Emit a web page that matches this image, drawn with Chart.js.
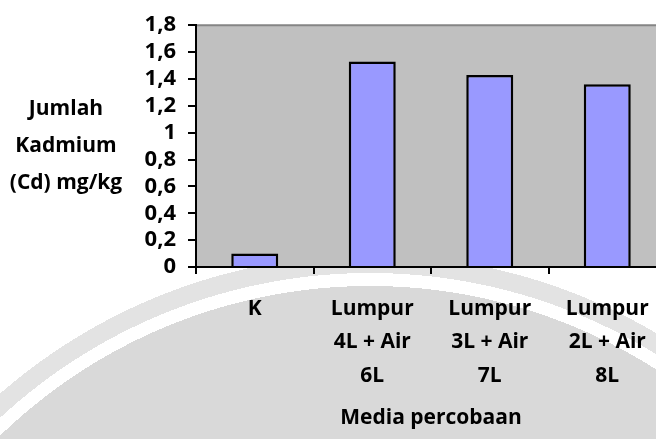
<!DOCTYPE html>
<html>
<head>
<meta charset="utf-8">
<script src="https://cdn.jsdelivr.net/npm/chart.js@4"></script>
<style>
  html, body { margin: 0; padding: 0; width: 656px; height: 439px; overflow: hidden; }
  body {
    background: radial-gradient(circle at 370px 818px,
      #d9d9d9 0 532px, #ffffff 532px 545px, #e3e3e3 545px 563px, #ffffff 563px);
  }
  #wrap { position: absolute; left: 0; top: 0; width: 680px; height: 439px; }
</style>
</head>
<body>
<div id="wrap"><canvas id="c" width="680" height="439"></canvas></div>
<script>
// Media (treatments) and cadmium content in mg/kg
const categories = [
  ['K'],
  ['Lumpur', '4L + Air', '6L'],
  ['Lumpur', '3L + Air', '7L'],
  ['Lumpur', '2L + Air', '8L']
];
const cadmium = [0.10, 1.53, 1.43, 1.36];
const yTickValues = [0, 0.2, 0.4, 0.6, 0.8, 1.0, 1.2, 1.4, 1.6, 1.8];
const yTickLabels = ['0', '0,2', '0,4', '0,6', '0,8', '1', '1,2', '1,4', '1,6', '1,8'];
const yTitleLines = ['Jumlah', 'Kadmium', '(Cd) mg/kg'];
const xTitle = 'Media percobaan';

const FONT = "'Open Sans', sans-serif";

// Gray plot area with a darker top edge
const plotBackground = {
  id: 'plotBackground',
  beforeDraw(chart) {
    const { ctx, chartArea: a } = chart;
    ctx.save();
    ctx.fillStyle = '#c0c0c0';
    ctx.fillRect(a.left, a.top, a.right - a.left, a.bottom - a.top);
    ctx.strokeStyle = '#858585';
    ctx.lineWidth = 2;
    ctx.beginPath();
    ctx.moveTo(a.left, a.top);
    ctx.lineTo(a.right, a.top);
    ctx.stroke();
    ctx.restore();
  }
};

// Horizontal, multi-line value-axis title on the left
const sideTitle = {
  id: 'sideTitle',
  afterDraw(chart) {
    const { ctx } = chart;
    ctx.save();
    ctx.font = "bold 21px " + FONT;
    ctx.fillStyle = '#000';
    ctx.textAlign = 'center';
    ctx.textBaseline = 'middle';
    yTitleLines.forEach((t, i) => ctx.fillText(t, 66, 109 + i * 37));
    ctx.restore();
  }
};

new Chart(document.getElementById('c'), {
  type: 'bar',
  data: {
    labels: categories,
    datasets: [{
      data: cadmium,
      backgroundColor: '#9999ff',
      borderColor: '#000000',
      borderWidth: 2.5,
      barPercentage: 0.4,
      categoryPercentage: 1.0
    }]
  },
  options: {
    responsive: false,
    devicePixelRatio: 1,
    animation: false,
    layout: { padding: { top: 25, right: 14, left: 0, bottom: 0 } },
    plugins: { legend: { display: false }, tooltip: { enabled: false } },
    scales: {
      y: {
        min: 0,
        max: 1.8,
        afterBuildTicks(s) { s.ticks = yTickValues.map(v => ({ value: v })); },
        ticks: {
          autoSkip: false,
          color: '#000',
          padding: 12,
          font: { family: FONT, size: 22, weight: 'bold' },
          callback: (v, i) => yTickLabels[i]
        },
        grid: { drawOnChartArea: false, tickLength: 8, color: '#000', lineWidth: 2 },
        border: { color: '#000', width: 2 },
        afterFit(s) { s.width = 196; }
      },
      x: {
        ticks: {
          color: '#000',
          padding: 18,
          maxRotation: 0,
          autoSkip: false,
          font: { family: FONT, size: 21, weight: 'bold', lineHeight: 1.6 }
        },
        grid: { offset: true, drawOnChartArea: false, tickLength: 7, color: '#000', lineWidth: 2 },
        border: { color: '#000', width: 2 },
        title: {
          display: true,
          text: xTitle,
          color: '#000',
          font: { family: FONT, size: 21, weight: 'bold' },
          padding: { top: 0, bottom: 8 }
        },
        afterFit(s) { s.height = 172; }
      }
    }
  },
  plugins: [plotBackground, sideTitle]
});
</script>
</body>
</html>
